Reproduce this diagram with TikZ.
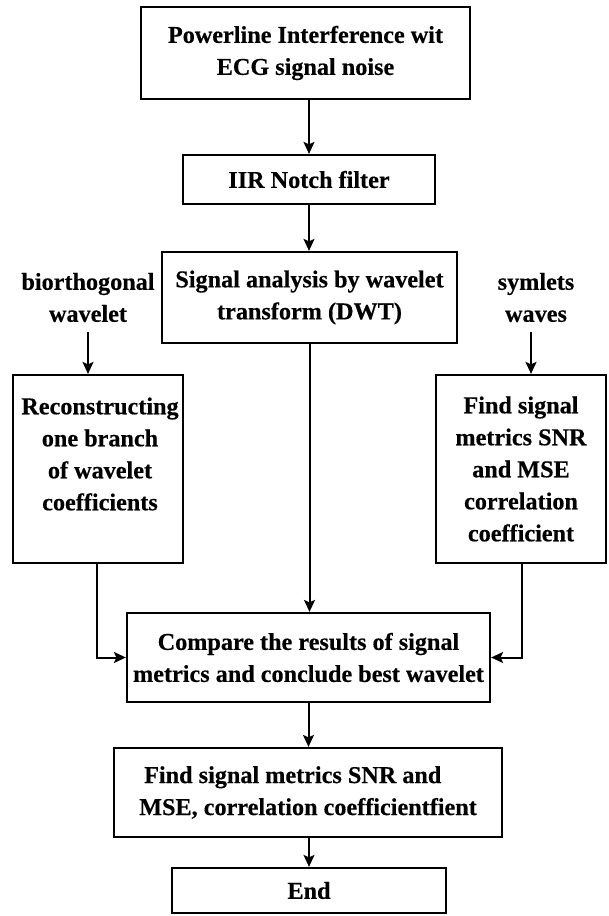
\documentclass[tikz,border=0pt]{standalone}
\usepackage{fontspec}
\setmainfont{Liberation Serif}[BoldFeatures={FakeBold=0.4}]
\usetikzlibrary{arrows.meta}
\begin{document}
\begin{tikzpicture}[x=1pt,y=-1pt,
  txt/.style={inner sep=0pt, align=center, font=\fontsize{24.2}{32}\selectfont\bfseries},
  box/.style={txt, draw, line width=2.2pt},
  flow/.style={line width=2pt, -{Stealth[length=12pt,width=11pt,inset=2.5pt]}}]
\useasboundingbox (0,0) rectangle (608,916);

% main column
\node[box, minimum width=329pt, minimum height=92pt] (src) at (305.5,53)
  {Powerline Interference wit\\ECG signal noise};
\node[box, minimum width=252pt, minimum height=49pt] (notch) at (309,179.5)
  {IIR Notch filter};
\node[box, minimum width=295pt, minimum height=91pt] (dwt) at (309.5,297.5)
  {Signal analysis by wavelet\\transform (DWT)};

% side labels
\node[txt] (blab) at (88,297.5) {biorthogonal\\wavelet};
\node[txt] (slab) at (536,297.5) {symlets\\waves};
\coordinate (btop) at (88,332);
\coordinate (stop) at (531,332);

% side boxes
\node[box, minimum width=170pt, minimum height=188pt] (lbox) at (98,469) {};
\node[txt] (ltext) at (100,454)
  {Reconstructing\\one branch\\of wavelet\\coefficients};
\node[box, minimum width=170pt, minimum height=188pt] (rbox) at (521,469)
  {Find signal\\metrics SNR\\and MSE\\correlation\\coefficient};

% lower column
\node[box, minimum width=363pt, minimum height=89pt] (cmp) at (308.5,657.5)
  {Compare the results of signal\\metrics and conclude best wavelet};
\node[box, align=left, minimum width=388pt, minimum height=89pt] (fin) at (308,792.5)
  {\hspace{5pt}Find signal metrics SNR and\\MSE, correlation coefficientfient};
\node[box, minimum width=274pt, minimum height=45pt] (stopbox) at (309,890.5)
  {End};

% connectors
\draw[flow] (src.south -| notch.north) -- (notch.north);
\draw[flow] (notch.south) -- (notch.south |- dwt.north);
\draw[flow] (dwt.south) -- (dwt.south |- cmp.north);
\draw[flow] (btop) -- (btop |- lbox.north);
\draw[flow] (stop) -- (stop |- rbox.north);
\draw[flow] ([xshift=-1pt]lbox.south) |- (cmp.west);
\draw[flow] ([xshift=1pt]rbox.south) |- (cmp.east);
\draw[flow] (cmp.south) -- (cmp.south |- fin.north);
\draw[flow] (fin.south -| stopbox.north) -- (stopbox.north);
\end{tikzpicture}
\end{document}
